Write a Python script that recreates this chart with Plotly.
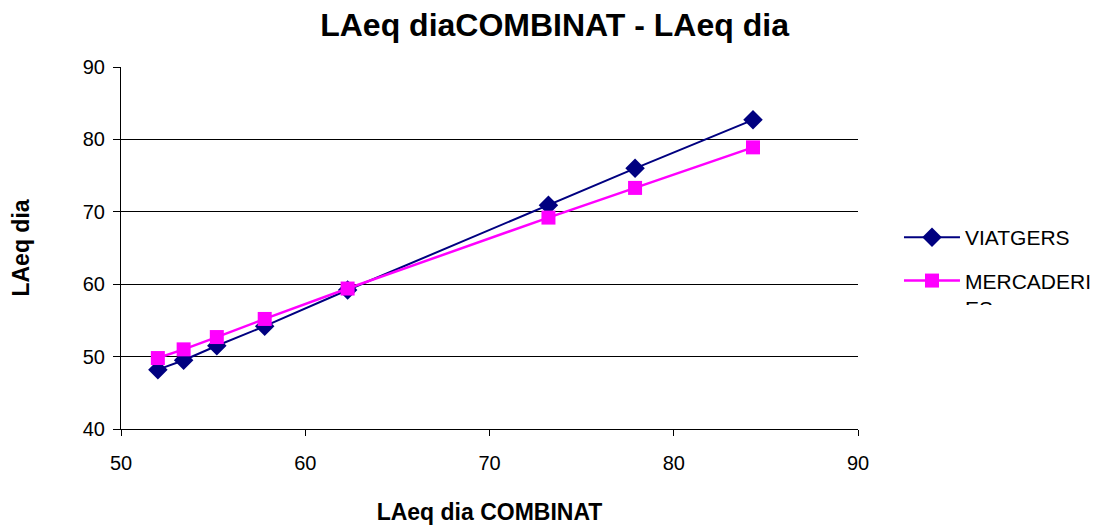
import plotly.graph_objects as go

x_combinat = [52.0, 53.4, 55.2, 57.8, 62.3, 73.2, 77.9, 84.3]
viatgers = [48.2, 49.5, 51.5, 54.2, 59.2, 70.9, 76.0, 82.7]
mercaderies = [49.8, 51.0, 52.7, 55.2, 59.4, 69.2, 73.3, 78.9]

fig = go.Figure()
fig.add_trace(go.Scatter(
    x=x_combinat, y=viatgers, name="VIATGERS", mode="lines+markers",
    legendgroup="a",
    line=dict(color="#000080", width=2),
    marker=dict(symbol="diamond", size=15, color="#000080")))
fig.add_trace(go.Scatter(
    x=x_combinat, y=mercaderies, name="MERCADERI<br>ES", mode="lines+markers",
    legendgroup="b",
    line=dict(color="#FF00FF", width=2.5),
    marker=dict(symbol="square", size=14, color="#FF00FF")))

fig.update_layout(
    width=1096, height=525,
    margin=dict(l=121, r=238, t=67, b=96, autoexpand=False),
    paper_bgcolor="white", plot_bgcolor="white",
    font=dict(family="Arial, Liberation Sans, sans-serif", color="black", size=20),
    title=dict(text="<b>LAeq diaCOMBINAT - LAeq dia</b>", x=0.506, xanchor="center",
               y=0.952, yanchor="middle", font=dict(size=32)),
    xaxis=dict(range=[50, 90], dtick=10, showgrid=False, zeroline=False,
               showline=True, linecolor="black", linewidth=1, automargin=False,
               ticks="outside", ticklen=6, tickcolor="black",
               tickfont=dict(size=20), ticklabelstandoff=10,
               title=dict(text="<b>LAeq dia COMBINAT</b>", font=dict(size=23), standoff=34)),
    yaxis=dict(range=[40, 90], dtick=10, showgrid=True, gridcolor="black", gridwidth=1,
               zeroline=False, showline=True, linecolor="black", linewidth=1, automargin=False,
               ticks="outside", ticklen=7, tickcolor="black",
               tickfont=dict(size=20), ticklabelstandoff=4,
               title=dict(text="<b>LAeq dia</b>", font=dict(size=23), standoff=46)),
    legend=dict(x=1.0556, y=0.432, xanchor="left", yanchor="middle",
                font=dict(size=21), bgcolor="rgba(0,0,0,0)", itemwidth=56,
                tracegroupgap=13, valign="top"),
    showlegend=True,
)

# white cover clipping the wrapped legend label, as in the reference
fig.add_annotation(xref="paper", yref="paper", x=1.1316, y=0.3425,
                   xanchor="left", yanchor="top", text=" ", showarrow=False,
                   width=140, height=40, bgcolor="white", borderpad=0, borderwidth=0)

fig.write_html("out.html")
